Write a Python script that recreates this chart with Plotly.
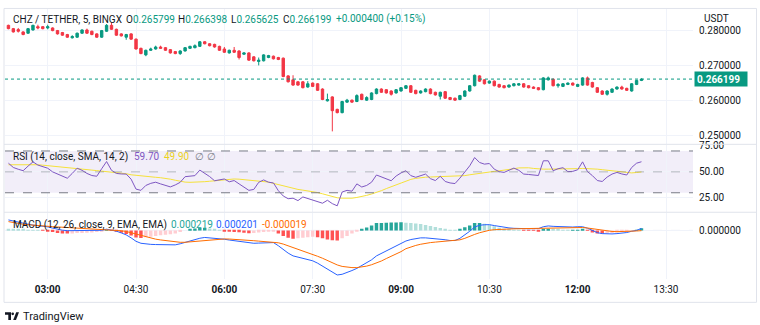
import plotly.graph_objects as go
import pandas as pd

W, H = 760, 325

# CHZ/USDT 5-minute candles
opens = [0.28153, 0.28059, 0.28031, 0.27965, 0.27928, 0.28021, 0.28115, 0.28115, 0.28078, 0.28078,
         0.28003, 0.27947, 0.27890, 0.27797, 0.27815, 0.27928, 0.28021, 0.27984, 0.27909, 0.27815,
         0.27984, 0.28153, 0.28040, 0.27909, 0.27815, 0.27909, 0.27759, 0.27497, 0.27310, 0.27441,
         0.27478, 0.27535, 0.27516, 0.27460, 0.27404, 0.27347, 0.27422, 0.27497, 0.27516, 0.27553,
         0.27684, 0.27628, 0.27610, 0.27553, 0.27478, 0.27366, 0.27441, 0.27422, 0.27329, 0.27366,
         0.27254, 0.27123, 0.27141, 0.27235, 0.27272, 0.27235, 0.27216, 0.26711, 0.26598, 0.26542,
         0.26542, 0.26392, 0.26505, 0.26486, 0.26336, 0.25999, 0.26111, 0.25756, 0.25662, 0.25962,
         0.26018, 0.25980, 0.26186, 0.26018, 0.26037, 0.26205, 0.26336, 0.26317, 0.26280, 0.26224,
         0.26280, 0.26355, 0.26430, 0.26299, 0.26224, 0.26261, 0.26336, 0.26243, 0.26130, 0.26261,
         0.26093, 0.26074, 0.26037, 0.26130, 0.26280, 0.26430, 0.26711, 0.26598, 0.26505, 0.26561,
         0.26467, 0.26430, 0.26392, 0.26430, 0.26448, 0.26486, 0.26430, 0.26392, 0.26374, 0.26317,
         0.26598, 0.26617, 0.26430, 0.26411, 0.26467, 0.26505, 0.26411, 0.26448, 0.26654, 0.26523,
         0.26374, 0.26280, 0.26186, 0.26243, 0.26336, 0.26392, 0.26355, 0.26280, 0.26467, 0.265799]
highs = [0.28171, 0.28078, 0.28078, 0.27984, 0.28078, 0.28171, 0.28171, 0.28134, 0.28171, 0.28096,
         0.28021, 0.27965, 0.27909, 0.27872, 0.27947, 0.28040, 0.28059, 0.28003, 0.27928, 0.28021,
         0.28190, 0.28228, 0.28059, 0.27928, 0.27909, 0.27928, 0.27778, 0.27516, 0.27460, 0.27516,
         0.27572, 0.27572, 0.27535, 0.27478, 0.27422, 0.27441, 0.27535, 0.27572, 0.27610, 0.27703,
         0.27703, 0.27647, 0.27628, 0.27572, 0.27535, 0.27460, 0.27535, 0.27441, 0.27385, 0.27385,
         0.27272, 0.27235, 0.27329, 0.27310, 0.27291, 0.27254, 0.27235, 0.26729, 0.26729, 0.26561,
         0.26561, 0.26561, 0.26523, 0.26505, 0.26355, 0.26205, 0.26130, 0.25774, 0.25999, 0.26055,
         0.26037, 0.26186, 0.26205, 0.26130, 0.26243, 0.26355, 0.26355, 0.26336, 0.26299, 0.26336,
         0.26392, 0.26448, 0.26448, 0.26317, 0.26299, 0.26355, 0.26355, 0.26261, 0.26261, 0.26280,
         0.26111, 0.26093, 0.26168, 0.26299, 0.26448, 0.26748, 0.26729, 0.26617, 0.26580, 0.26580,
         0.26486, 0.26448, 0.26467, 0.26505, 0.26505, 0.26505, 0.26448, 0.26411, 0.26392, 0.26673,
         0.26692, 0.26636, 0.26505, 0.26505, 0.26523, 0.26523, 0.26486, 0.26673, 0.26692, 0.26542,
         0.26392, 0.26299, 0.26299, 0.26355, 0.26411, 0.26430, 0.26374, 0.26505, 0.26598, 0.266398]
lows = [0.28040, 0.27947, 0.27947, 0.27872, 0.27909, 0.28003, 0.28040, 0.28040, 0.28040, 0.27984,
        0.27890, 0.27853, 0.27797, 0.27778, 0.27797, 0.27909, 0.27909, 0.27872, 0.27797, 0.27797,
        0.27965, 0.28021, 0.27853, 0.27834, 0.27741, 0.27741, 0.27460, 0.27329, 0.27272, 0.27422,
        0.27460, 0.27478, 0.27422, 0.27347, 0.27329, 0.27310, 0.27404, 0.27478, 0.27497, 0.27535,
        0.27610, 0.27553, 0.27516, 0.27422, 0.27366, 0.27347, 0.27366, 0.27179, 0.27310, 0.27141,
        0.27123, 0.27010, 0.27123, 0.27216, 0.27179, 0.27160, 0.26673, 0.26523, 0.26430, 0.26430,
        0.26355, 0.26374, 0.26392, 0.26280, 0.26018, 0.25980, 0.25128, 0.25643, 0.25643, 0.25943,
        0.25943, 0.25962, 0.26018, 0.25999, 0.26018, 0.26186, 0.26224, 0.26205, 0.26149, 0.26205,
        0.26261, 0.26336, 0.26224, 0.26186, 0.26205, 0.26243, 0.26186, 0.26149, 0.26037, 0.26055,
        0.26018, 0.25999, 0.26018, 0.26111, 0.26261, 0.26411, 0.26542, 0.26467, 0.26486, 0.26411,
        0.26374, 0.26355, 0.26374, 0.26411, 0.26430, 0.26374, 0.26355, 0.26336, 0.26299, 0.26299,
        0.26580, 0.26411, 0.26374, 0.26392, 0.26448, 0.26430, 0.26392, 0.26430, 0.26430, 0.26374,
        0.26224, 0.26168, 0.26149, 0.26224, 0.26317, 0.26317, 0.26280, 0.26261, 0.26448, 0.265625]
closes = [0.28059, 0.27965, 0.27984, 0.27890, 0.28059, 0.28153, 0.28078, 0.28059, 0.28115, 0.28003,
          0.27909, 0.27872, 0.27815, 0.27834, 0.27928, 0.28021, 0.27928, 0.27890, 0.27815, 0.28003,
          0.28153, 0.28040, 0.27872, 0.27853, 0.27890, 0.27759, 0.27478, 0.27347, 0.27441, 0.27478,
          0.27535, 0.27497, 0.27441, 0.27366, 0.27347, 0.27422, 0.27516, 0.27553, 0.27572, 0.27684,
          0.27628, 0.27572, 0.27535, 0.27441, 0.27385, 0.27441, 0.27385, 0.27235, 0.27366, 0.27160,
          0.27141, 0.27160, 0.27310, 0.27291, 0.27198, 0.27179, 0.26692, 0.26542, 0.26448, 0.26448,
          0.26374, 0.26486, 0.26411, 0.26299, 0.26037, 0.26037, 0.25718, 0.25662, 0.25980, 0.26018,
          0.25962, 0.26149, 0.26037, 0.26093, 0.26224, 0.26336, 0.26243, 0.26224, 0.26186, 0.26317,
          0.26374, 0.26430, 0.26243, 0.26205, 0.26280, 0.26336, 0.26205, 0.26168, 0.26243, 0.26074,
          0.26037, 0.26018, 0.26149, 0.26280, 0.26430, 0.26729, 0.26561, 0.26486, 0.26561, 0.26430,
          0.26392, 0.26374, 0.26448, 0.26486, 0.26486, 0.26392, 0.26374, 0.26355, 0.26317, 0.26654,
          0.26654, 0.26430, 0.26467, 0.26486, 0.26505, 0.26448, 0.26467, 0.26654, 0.26448, 0.26392,
          0.26243, 0.26186, 0.26280, 0.26336, 0.26392, 0.26336, 0.26299, 0.26486, 0.26580, 0.266199]

# RSI(14) and its 14-period SMA
rsi = [58.3, 54.2, 52.5, 51.1, 55.5, 59.6, 56.5, 55.0, 53.5, 50.0,
       47.9, 45.5, 43.9, 48.5, 53.5, 51.5, 48.5, 46.5, 45.8, 53.0,
       59.9, 51.5, 48.5, 48.0, 47.9, 43.0, 33.5, 32.3, 37.0, 39.0,
       40.1, 38.5, 37.0, 35.6, 37.5, 40.0, 45.4, 45.8, 46.4, 51.7,
       48.9, 45.5, 41.5, 42.0, 43.2, 40.5, 41.7, 38.5, 35.5, 32.3,
       33.2, 40.0, 42.3, 40.1, 39.4, 32.0, 26.9, 24.3, 24.8, 22.5,
       26.0, 24.5, 22.8, 21.2, 20.0, 22.8, 19.6, 17.5, 30.7, 32.3,
       31.5, 38.5, 35.5, 37.0, 40.1, 47.0, 45.0, 43.2, 41.5, 46.0,
       49.0, 51.1, 46.4, 44.8, 46.0, 47.9, 43.5, 41.7, 45.8, 40.8,
       39.4, 38.8, 44.0, 49.5, 55.8, 63.7, 59.0, 57.4, 58.0, 52.6,
       50.2, 49.5, 51.7, 53.6, 51.5, 47.9, 47.5, 47.0, 46.5, 60.6,
       60.6, 51.1, 53.0, 54.0, 50.2, 50.5, 52.0, 59.6, 50.2, 46.4,
       41.7, 40.8, 45.0, 47.9, 49.5, 48.0, 47.0, 54.2, 58.3, 59.7]
rsi_sma = [56.8, 56.9, 57.0, 57.0, 56.9, 56.8, 56.8, 56.4, 56.0, 55.5,
           55.0, 54.4, 54.0, 53.6, 53.2, 52.7, 52.2, 51.7, 51.2, 50.8,
           50.4, 50.0, 49.5, 48.9, 48.2, 47.2, 46.6, 46.2, 45.8, 45.3,
           44.8, 44.4, 43.9, 43.0, 42.0, 41.0, 40.2, 40.0, 40.0, 40.3,
           40.6, 41.0, 41.5, 42.0, 42.6, 43.0, 43.2, 43.0, 42.5, 42.0,
           41.5, 41.0, 40.8, 40.2, 39.0, 37.8, 36.5, 35.3, 34.2, 33.2,
           32.5, 31.8, 31.2, 30.2, 29.0, 27.6, 26.2, 25.2, 24.8, 24.6,
           24.8, 25.5, 26.2, 27.5, 28.8, 30.2, 32.0, 34.0, 35.8, 37.8,
           39.8, 41.7, 42.8, 43.8, 44.6, 44.9, 45.1, 45.2, 45.3, 45.4,
           45.5, 45.7, 46.0, 46.4, 47.2, 48.0, 48.7, 49.5, 50.0, 50.5,
           51.0, 51.5, 52.2, 53.0, 53.8, 54.2, 53.9, 53.3, 52.8, 52.6,
           52.6, 52.6, 52.5, 52.6, 52.7, 52.9, 53.1, 53.3, 53.2, 53.0,
           52.6, 52.1, 51.6, 51.1, 50.5, 49.8, 49.3, 49.0, 49.4, 49.9]

# MACD(12, 26, 9) line and signal line, in units of 1e-4 USDT
MACD_UNIT = 1e-4
macd = [10.7, 9.5, 8.3, 7.3, 6.4, 5.5, 5.1, 4.3, 3.7, 2.4,
        1.1, 0.3, -0.2, -0.2, 0.0, -0.2, -0.3, -0.3, -0.2, 0.2,
        1.3, 0.6, -0.7, -2.5, -4.5, -7.5, -11.0, -13.0, -13.8, -14.1,
        -14.3, -14.4, -14.7, -14.8, -14.6, -13.5, -12.0, -10.6, -9.2, -7.9,
        -7.1, -7.4, -7.8, -8.2, -8.9, -9.7, -10.4, -11.0, -11.8, -12.8,
        -13.0, -12.8, -12.7, -12.3, -12.3, -15.5, -19.3, -23.0, -25.8, -27.2,
        -28.5, -29.6, -30.8, -33.2, -36.2, -39.7, -42.8, -45.2, -44.5, -42.8,
        -40.7, -38.5, -35.8, -33.2, -29.8, -25.8, -23.4, -20.7, -18.2, -15.8,
        -13.2, -10.7, -9.2, -8.2, -7.5, -7.5, -7.8, -8.2, -8.7, -9.4,
        -10.2, -10.2, -8.0, -4.8, -0.8, 3.5, 5.3, 5.8, 5.9, 5.0,
        4.0, 3.2, 2.6, 2.2, 1.9, 1.8, 1.8, 1.9, 1.9, 3.8,
        4.6, 4.2, 3.9, 3.6, 3.4, 3.5, 3.8, 3.8, 2.3, -0.3,
        -2.2, -3.2, -3.6, -3.5, -3.2, -2.7, -2.1, -0.8, 0.1, 2.01]
signal = [9.0, 8.0, 7.0, 6.3, 5.8, 5.3, 4.9, 4.5, 4.2, 3.9,
          3.6, 3.3, 3.0, 2.8, 2.6, 2.3, 2.0, 1.7, 1.4, 1.2,
          1.0, 0.7, 0.3, -0.3, -1.0, -2.3, -3.8, -5.3, -6.8, -7.8,
          -8.8, -9.6, -10.4, -11.0, -11.6, -12.0, -12.0, -11.6, -11.2, -10.5,
          -9.9, -9.4, -9.0, -8.7, -8.6, -8.7, -8.9, -9.2, -9.6, -10.0,
          -10.4, -10.8, -11.2, -11.5, -11.8, -12.5, -13.8, -15.5, -17.3, -19.2,
          -21.0, -22.8, -24.3, -26.2, -28.2, -30.5, -32.8, -35.0, -36.5, -37.3,
          -37.7, -37.7, -37.3, -36.2, -34.8, -33.3, -31.0, -28.5, -26.2, -24.0,
          -21.5, -18.5, -16.7, -15.2, -14.0, -13.0, -12.3, -11.8, -11.3, -10.9,
          -10.6, -10.3, -9.5, -8.0, -5.8, -4.0, -2.3, -1.0, 0.2, 0.8,
          1.2, 1.4, 1.6, 1.7, 1.8, 1.9, 2.0, 2.1, 2.2, 2.5,
          2.8, 3.0, 3.1, 3.1, 3.1, 3.1, 3.1, 3.0, 2.5, 1.7,
          0.8, 0.0, -0.6, -1.0, -1.2, -1.2, -1.1, -0.8, -0.5, -0.19]

tick_times = ["03:00", "04:30", "06:00", "07:30", "09:00", "10:30", "12:00", "13:30"]
price_ticks = [0.25, 0.26, 0.27, 0.28]
rsi_ticks = [25, 50, 75]

DAY = "2024-03-12"
times = pd.date_range(f"{DAY} 02:20", periods=len(closes), freq="5min")
x_range = [pd.Timestamp(f"{DAY} 02:16:30"), pd.Timestamp(f"{DAY} 13:57:30")]

UP, DOWN = "#089981", "#F23645"
TEXT = "#131722"
GRID = "#F0F3FA"
BORDER = "#E0E3EB"
SMA_COLOR = "#F5E13A"
FONT = "Roboto"
FS = 10


def px(x):
    return x / W


def py(y):
    return 1 - y / H


X_DOM = [px(5), px(693)]
Y_PRICE = [py(141), py(4)]
Y_RSI = [py(210), py(142)]
Y_MACD = [py(278), py(211)]

macd_v = [m * MACD_UNIT for m in macd]
signal_v = [s * MACD_UNIT for s in signal]
hist_v = [m - s for m, s in zip(macd_v, signal_v)]

hist_colors = []
prev = None
for h in hist_v:
    rising = prev is not None and h > prev
    if h >= 0:
        hist_colors.append("#26A69A" if rising else "#B2DFDB")
    else:
        hist_colors.append("#FFCDD2" if rising else "#FF5252")
    prev = h

fig = go.Figure()

fig.add_trace(go.Candlestick(
    x=times, open=opens, high=highs, low=lows, close=closes,
    increasing=dict(line=dict(color=UP, width=1), fillcolor=UP),
    decreasing=dict(line=dict(color=DOWN, width=1), fillcolor=DOWN),
    whiskerwidth=0, xaxis="x", yaxis="y", showlegend=False, hoverinfo="skip"))

fig.add_trace(go.Scatter(x=times, y=rsi_sma, mode="lines", line=dict(color=SMA_COLOR, width=1),
                         xaxis="x2", yaxis="y2", showlegend=False, hoverinfo="skip"))
fig.add_trace(go.Scatter(x=times, y=rsi, mode="lines", line=dict(color="#7E57C2", width=1),
                         xaxis="x2", yaxis="y2", showlegend=False, hoverinfo="skip"))

fig.add_trace(go.Bar(x=times, y=hist_v, marker=dict(color=hist_colors, line=dict(width=0)),
                     xaxis="x3", yaxis="y3", showlegend=False, hoverinfo="skip"))
fig.add_trace(go.Scatter(x=times, y=macd_v, mode="lines", line=dict(color="#2962FF", width=1),
                         xaxis="x3", yaxis="y3", showlegend=False, hoverinfo="skip"))
fig.add_trace(go.Scatter(x=times, y=signal_v, mode="lines", line=dict(color="#FF6D00", width=1),
                         xaxis="x3", yaxis="y3", showlegend=False, hoverinfo="skip"))

tickvals = [pd.Timestamp(f"{DAY} {t}") for t in tick_times]
ticktext = [f"<b>{t}</b>" if t.endswith(":00") and int(t[:2]) % 3 == 0 else t for t in tick_times]

xcommon = dict(range=x_range, domain=X_DOM, showgrid=True, gridcolor=GRID, gridwidth=1,
               tickvals=tickvals, ticktext=ticktext, zeroline=False, showline=False,
               ticks="", rangeslider=dict(visible=False), fixedrange=True)

ycommon = dict(side="right", showgrid=True, gridcolor=GRID, gridwidth=1, zeroline=False,
               showline=False, ticks="", ticklabelstandoff=5,
               tickfont=dict(family=FONT, size=FS, color=TEXT), fixedrange=True)

fig.update_layout(
    width=W, height=H,
    margin=dict(l=0, r=0, t=0, b=0),
    paper_bgcolor="white", plot_bgcolor="white",
    bargap=0.3,
    xaxis=dict(**xcommon, anchor="y", showticklabels=False),
    xaxis2=dict(**xcommon, anchor="y2", matches="x", showticklabels=False),
    xaxis3=dict(**xcommon, anchor="y3", matches="x", showticklabels=True,
                tickfont=dict(family=FONT, size=FS, color=TEXT), ticklabelstandoff=3),
    yaxis=dict(**ycommon, domain=Y_PRICE, anchor="x", range=[0.247725, 0.286208],
               tickvals=price_ticks, tickformat=".6f"),
    yaxis2=dict(**ycommon, domain=Y_RSI, anchor="x2", range=[11.8, 75.9],
                tickvals=rsi_ticks, tickformat=".2f"),
    yaxis3=dict(**ycommon, domain=Y_MACD, anchor="x3", range=[-0.0049, 0.0018],
                tickvals=[0], ticktext=["0.000000"]),
)

shapes = []
# RSI band background and levels
shapes.append(dict(type="rect", xref="paper", yref="y2", x0=X_DOM[0], x1=X_DOM[1], y0=30, y1=70,
                   fillcolor="rgba(126,87,194,0.1)", line=dict(width=0), layer="below"))
for lvl, col in [(70, "#787B86"), (50, "rgba(120,123,134,0.5)"), (30, "#787B86")]:
    shapes.append(dict(type="line", xref="paper", yref="y2", x0=X_DOM[0], x1=X_DOM[1], y0=lvl, y1=lvl,
                       line=dict(color=col, width=1, dash="dash")))
# MACD zero line
shapes.append(dict(type="line", xref="paper", yref="y3", x0=X_DOM[0], x1=X_DOM[1], y0=0, y1=0,
                   line=dict(color="rgba(120,123,134,0.5)", width=1, dash="dash"), layer="below"))
# last price line
shapes.append(dict(type="line", xref="paper", yref="y", x0=X_DOM[0], x1=X_DOM[1],
                   y0=closes[-1], y1=closes[-1], line=dict(color=UP, width=1, dash="dot")))
# pane separators and outer frame
for ysep in (141.5, 210.5):
    shapes.append(dict(type="line", xref="paper", yref="paper", x0=px(4), x1=px(756.5),
                       y0=py(ysep), y1=py(ysep), line=dict(color=BORDER, width=1)))
shapes.append(dict(type="rect", xref="paper", yref="paper", x0=px(4), x1=px(756.5),
                   y0=py(302), y1=py(3.5), line=dict(color=BORDER, width=1)))


# TradingView logo mark
def path(points):
    return "M" + " L".join(f"{px(a)},{py(b)}" for a, b in points) + " Z"


shapes.append(dict(type="path", xref="paper", yref="paper",
                   path=path([(5, 312), (11, 312), (11, 320), (8.3, 320), (8.3, 314.6), (5, 314.6)]),
                   fillcolor=TEXT, line=dict(width=0)))
shapes.append(dict(type="circle", xref="paper", yref="paper", x0=px(11.4), x1=px(14.0),
                   y0=py(315), y1=py(312.4), fillcolor=TEXT, line=dict(width=0)))
shapes.append(dict(type="path", xref="paper", yref="paper",
                   path=path([(13.2, 320), (16.2, 312), (19.0, 312), (16.0, 320)]),
                   fillcolor=TEXT, line=dict(width=0)))

fig.update_layout(shapes=shapes)


def label(x, y, text, color=TEXT, size=FS, **kw):
    return dict(x=px(x), y=py(y), xref="paper", yref="paper", xanchor="left", yanchor="middle",
                text=text, showarrow=False, font=dict(family=FONT, size=size, color=color), **kw)


def val(prefix, v, color):
    return f"{prefix}<span style='color:{color}'>{v}</span>"


ann = [
    label(11, 14.5, "CHZ / TETHER, 5, BINGX"),
    label(124, 14.5, val("O", f"{opens[-1]:.6f}", UP)),
    label(176, 14.5, val("H", f"{highs[-1]:.6f}", UP)),
    label(229, 14.5, val("L", f"{lows[-1]:.6f}", UP)),
    label(281, 14.5, val("C", f"{closes[-1]:.6f}", UP)),
    label(334, 14.5, f"+{closes[-1] - opens[-1]:.6f} (+{(closes[-1] - opens[-1]) / opens[-1] * 100:.2f}%)", UP),
    label(702, 13.5, "USDT"),
    label(11, 154, "RSI (14, close, SMA, 14, 2)"),
    label(132, 154, f"{rsi[-1]:.2f}", "#7E57C2"),
    label(162, 154, f"{rsi_sma[-1]:.2f}", "#EBD21E"),
    label(193, 154, "∅", "#787B86"),
    label(205, 154, "∅", "#787B86"),
    label(11, 223, "MACD (12, 26, close, 9, EMA, EMA)"),
    label(169, 223, "0.000219", "#26A69A"),
    label(214, 223, "0.000201", "#2962FF"),
    label(260, 223, "-0.000019", "#FF6D00"),
    label(21, 316, "TradingView", TEXT, 11),
    dict(x=px(694), y=closes[-1], xref="paper", yref="y", xanchor="left", yanchor="middle",
         text=f"<b>{closes[-1]:.6f}</b>", showarrow=False, bgcolor=UP, borderpad=2,
         width=48, height=10, align="left",
         font=dict(family=FONT, size=FS, color="white")),
]
fig.update_layout(annotations=ann)

fig.write_html("out.html")
